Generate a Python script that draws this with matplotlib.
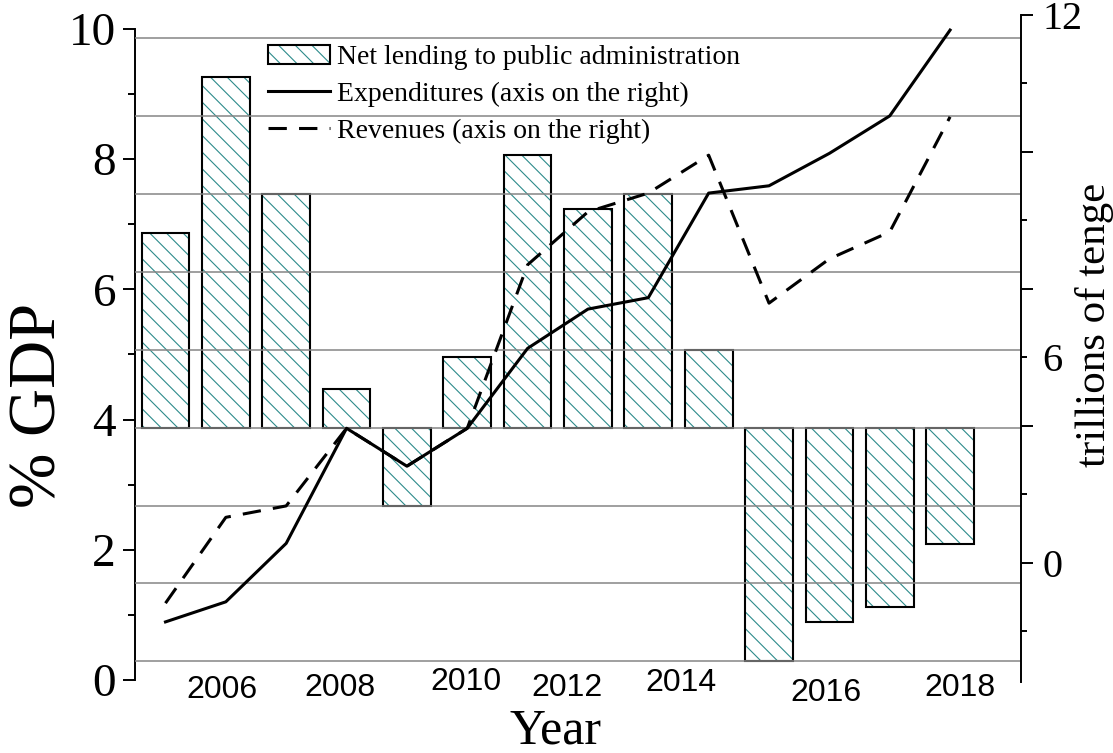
"""
Net lending, expenditures and revenues of public administration, 2005-2018.
Writes the chart to out.png.
"""

import matplotlib
matplotlib.use("Agg")
import matplotlib.pyplot as plt
from matplotlib.transforms import blended_transform_factory

years = list(range(2005, 2019))

# net lending to public administration, % GDP (bars, own scale with grid every 2)
net_lending = [5.0, 9.0, 6.0, 1.0, -2.0, 1.8, 7.0, 5.6, 6.0, 2.0, -6.0, -5.0, -4.6, -3.0]

# expenditures and revenues, axis on the right
expenditures = [-1.29, -0.85, 0.43, 2.95, 2.12, 2.95, 4.70, 5.56, 5.81, 8.10, 8.26, 8.97, 9.79, 11.67]
revenues = [-0.88, 1.00, 1.25, 2.95, 2.12, 2.95, 6.53, 7.69, 8.10, 8.93, 5.69, 6.66, 7.25, 9.77]

year_labels = ["2006", "2008", "2010", "2012", "2014", "2016", "2018"]
right_major = [0, 3, 6, 9, 12]
right_major_labels = ["0", "", "", "", "12"]
right_minor = [-1.5, 1.5, 4.5, 7.5, 10.5]
right_minor_labels = ["", "", "6", "", ""]

legend_labels = [
    "Net lending to public administration",
    "Expenditures (axis on the right)",
    "Revenues (axis on the right)",
]

TEAL = "#2e8b8b"
SERIF = "Liberation Serif"
SANS = "Liberation Sans"

plt.rcParams["hatch.linewidth"] = 0.8
plt.rcParams["font.family"] = SERIF


def build_axes(fig):
    """Axe de gauche (% GDP), axe des barres et axe de droite."""
    ax = fig.add_axes([135 / 1113, 71 / 753, 886 / 1113, 667 / 753])
    ax_b = ax.twinx()
    ax_r = ax.twinx()
    ax.set_xlim(2004.495, 2019.175)
    return ax, ax_b, ax_r


def style_left(ax):
    ax.set_ylim(-0.031, 10.215)
    ax.set_yticks(range(0, 11, 2))
    ax.set_yticks(range(1, 10, 2), minor=True)
    ax.tick_params(axis="y", which="major", length=8.6, width=1.4, labelsize=34, pad=5)
    ax.tick_params(axis="y", which="minor", length=5, width=1.4)
    for side in ("top", "bottom", "right"):
        ax.spines[side].set_visible(False)
    ax.spines["left"].set_linewidth(1.4)
    ax.spines["left"].set_bounds(0, 10)
    ax.set_xticks([])
    ax.set_ylabel("% GDP", fontsize=48)
    ax.yaxis.set_label_coords(-0.074, 0.415)
    ax.set_xlabel("Year", fontsize=36)
    ax.xaxis.set_label_coords(0.475, -0.039)

    # étiquettes des années, posées à la main comme dans la figure d'origine
    trans = blended_transform_factory(ax.transData, ax.transAxes)
    label_x = [2005.94, 2007.89, 2009.98, 2011.65, 2013.54, 2015.94, 2018.16]
    label_y = [-0.012, -0.009, 0.0, -0.009, -0.0015, -0.0165, -0.009]
    for txt, x, y in zip(year_labels, label_x, label_y):
        ax.text(x, y, txt, transform=trans, ha="center", va="center",
                fontsize=23, family=SANS)


def draw_bars(ax_b):
    ax_b.set_ylim(-6.53, 10.59)
    hatch_bars = ax_b.bar(years, net_lending, width=0.79, color="white",
                          edgecolor=TEAL, hatch="\\\\", linewidth=0)
    edge_bars = ax_b.bar(years, net_lending, width=0.79, fill=False,
                         edgecolor="black", linewidth=1.5)
    ax_b.set_yticks(range(-6, 11, 2))
    ax_b.set_axisbelow(False)
    ax_b.grid(axis="y", color="#858585", linewidth=1.1)
    ax_b.tick_params(axis="y", length=0, labelright=False, labelleft=False)
    for side in ax_b.spines:
        ax_b.spines[side].set_visible(False)
    return hatch_bars, edge_bars


def draw_lines(ax_r):
    ax_r.set_ylim(-2.606, 12)
    rev, = ax_r.plot(years, revenues, color="black", lw=2.2, dashes=(6, 4))
    exp, = ax_r.plot(years, expenditures, color="black", lw=2.2)
    ax_r.set_yticks(right_major, labels=right_major_labels)
    ax_r.set_yticks(right_minor, labels=right_minor_labels, minor=True)
    ax_r.tick_params(axis="y", which="major", length=8.6, width=1.4, labelsize=29, pad=7)
    ax_r.tick_params(axis="y", which="minor", length=4.3, width=1.4, labelsize=29, pad=11.3)
    for side in ("top", "bottom", "left"):
        ax_r.spines[side].set_visible(False)
    ax_r.spines["right"].set_linewidth(1.4)
    ax_r.set_ylabel("trillions of tenge", fontsize=31)
    ax_r.yaxis.set_label_coords(1.061, 0.535)
    return exp, rev


def main():
    fig = plt.figure(figsize=(11.13, 7.53), dpi=100)
    ax, ax_b, ax_r = build_axes(fig)
    style_left(ax)
    hatch_bars, edge_bars = draw_bars(ax_b)
    exp, rev = draw_lines(ax_r)

    ax_r.legend([(hatch_bars[0], edge_bars[0]), exp, rev], legend_labels,
                loc="upper left", bbox_to_anchor=(0.150, 0.955),
                frameon=False, fontsize=20, borderpad=0, borderaxespad=0,
                handlelength=2.25, handletextpad=0.25, labelspacing=0.4)

    fig.savefig("out.png", dpi=100)
    plt.close(fig)


if __name__ == "__main__":
    main()
